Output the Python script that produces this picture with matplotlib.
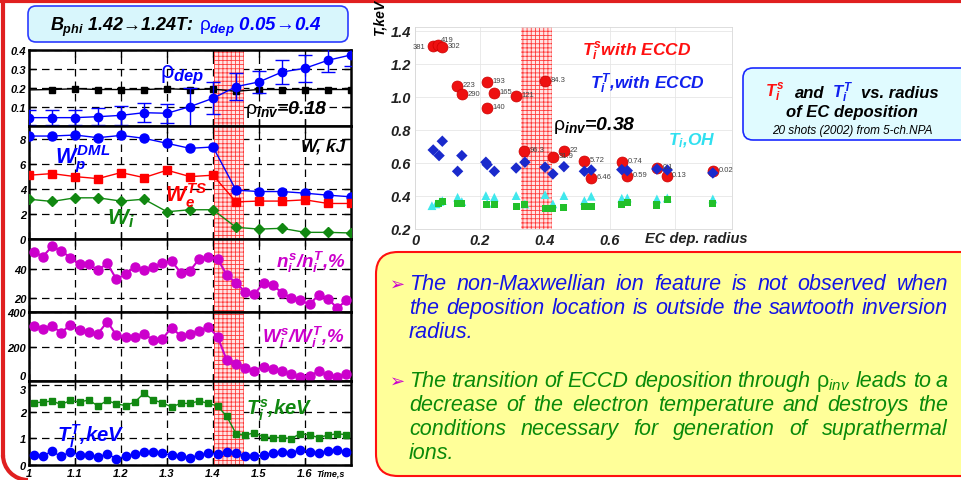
import matplotlib
matplotlib.use('Agg')
import matplotlib.pyplot as plt
from matplotlib.patches import FancyBboxPatch, Arc

plt.rcParams['font.family'] = ['Liberation Sans', 'DejaVu Sans']
plt.rcParams['mathtext.fontset'] = 'custom'
plt.rcParams['mathtext.rm'] = 'Liberation Sans'
plt.rcParams['mathtext.it'] = 'Liberation Sans:italic:bold'
plt.rcParams['mathtext.bf'] = 'Liberation Sans:bold'
plt.rcParams['mathtext.sf'] = 'Liberation Sans:italic'
plt.rcParams['hatch.linewidth'] = 0.6

# ---------------- time traces (left column) ----------------
t_slow = [1.00, 1.05, 1.10, 1.15, 1.20, 1.25, 1.30, 1.35, 1.40, 1.45, 1.50, 1.55, 1.60, 1.65, 1.70]
rho_dep = [0.044, 0.044, 0.044, 0.049, 0.056, 0.070, 0.067, 0.102, 0.146, 0.207, 0.232, 0.284, 0.304, 0.346, 0.374]
rho_err = [0.04, 0.04, 0.04, 0.045, 0.05, 0.05, 0.05, 0.10, 0.085, 0.07, 0.06, 0.065, 0.07, 0.06, 0.06]
rho_inv = [0.19, 0.192, 0.196, 0.192, 0.192, 0.192, 0.196, 0.192, 0.194, 0.183, 0.192, 0.192, 0.192, 0.192, 0.192]

w_p = [8.2, 8.2, 8.28, 8.07, 8.25, 8.02, 7.62, 7.22, 7.33, 3.89, 3.78, 3.78, 3.65, 3.49, 3.36]
w_e = [5.08, 5.21, 4.97, 4.81, 5.29, 4.89, 5.48, 4.97, 5.08, 2.96, 3.02, 3.02, 3.12, 2.83, 2.83]
w_i = [3.17, 2.99, 3.28, 3.28, 3.02, 3.17, 2.17, 2.33, 2.33, 0.93, 0.79, 0.85, 0.53, 0.53, 0.48]

t_fast = [1.01, 1.03, 1.05, 1.07, 1.09, 1.11, 1.13, 1.15, 1.17, 1.19, 1.21, 1.23,
          1.25, 1.27, 1.29, 1.31, 1.33, 1.35, 1.37, 1.39, 1.41, 1.43, 1.45, 1.47,
          1.49, 1.51, 1.53, 1.55, 1.57, 1.59, 1.61, 1.63, 1.65, 1.67, 1.69]
n_ratio = [52.2, 48.7, 55.8, 52.7, 48.0, 43.3, 43.3, 39.3, 44.0, 32.9, 36.5, 41.6,
           39.3, 41.2, 44.0, 45.6, 37.4, 38.8, 47.1, 48.7, 47.1, 35.8, 30.4, 24.0,
           22.4, 30.4, 28.7, 23.5, 19.8, 18.1, 15.3, 22.1, 19.3, 12.7, 18.1]
w_ratio = [320, 304, 320, 280, 326, 296, 284, 274, 344, 266, 254, 256,
           270, 240, 244, 310, 260, 274, 290, 314, 256, 120, 100, 74,
           60, 84, 70, 56, 40, 24, 30, 56, 34, 26, 40]
ti_s = [2.33, 2.36, 2.40, 2.27, 2.42, 2.36, 2.44, 2.21, 2.42, 2.29, 2.23, 2.36,
        2.69, 2.44, 2.33, 2.18, 2.31, 2.31, 2.40, 2.31, 2.21, 1.82, 1.18, 1.12,
        1.21, 1.05, 1.03, 1.03, 0.99, 1.18, 1.12, 1.03, 1.12, 1.17, 1.14]
ti_t = [0.38, 0.35, 0.51, 0.32, 0.50, 0.37, 0.38, 0.31, 0.41, 0.24, 0.32, 0.41,
        0.47, 0.47, 0.44, 0.37, 0.32, 0.28, 0.37, 0.44, 0.41, 0.47, 0.44, 0.35,
        0.32, 0.37, 0.45, 0.47, 0.45, 0.58, 0.50, 0.45, 0.51, 0.58, 0.47]
band_t = [1.402, 1.467]
time_ticks = [1.0, 1.1, 1.2, 1.3, 1.4, 1.5, 1.6]
time_labels = ['1', '1.1', '1.2', '1.3', '1.4', '1.5', '1.6']

# ---------------- Ti vs EC deposition radius (right) ----------------
red_x = [0.056, 0.072, 0.084, 0.128, 0.144, 0.221, 0.244, 0.221, 0.311, 0.400,
         0.336, 0.424, 0.458, 0.521, 0.542, 0.636, 0.653, 0.744, 0.774, 0.916]
red_y = [1.31, 1.315, 1.30, 1.065, 1.014, 1.089, 1.024, 0.933, 1.004, 1.093,
         0.671, 0.634, 0.671, 0.610, 0.509, 0.604, 0.519, 0.570, 0.519, 0.550]
red_txt = ['381', '419', '302', '223', '290', '193', '165', '140', '121', '84.3',
           '96.3', '31.9', '22', '5.72', '6.46', '0.74', '0.59', '0.1', '0.13', '0.02']
blue_x = [0.056, 0.074, 0.084, 0.131, 0.144, 0.218, 0.222, 0.244, 0.311, 0.338,
          0.400, 0.424, 0.458, 0.521, 0.542, 0.636, 0.653, 0.744, 0.776, 0.916]
blue_y = [0.678, 0.644, 0.731, 0.549, 0.644, 0.604, 0.589, 0.549, 0.569, 0.604,
          0.574, 0.533, 0.577, 0.549, 0.557, 0.559, 0.553, 0.563, 0.557, 0.539]
cyan_x = [0.052, 0.065, 0.077, 0.084, 0.131, 0.144, 0.218, 0.222, 0.244, 0.311, 0.338,
          0.400, 0.424, 0.458, 0.521, 0.542, 0.636, 0.653, 0.744, 0.776, 0.916]
cyan_y = [0.341, 0.352, 0.366, 0.372, 0.392, 0.366, 0.402, 0.355, 0.392, 0.402, 0.352,
          0.408, 0.352, 0.402, 0.372, 0.398, 0.386, 0.388, 0.382, 0.388, 0.382]
green_x = [0.072, 0.084, 0.131, 0.144, 0.221, 0.244, 0.311, 0.338, 0.400, 0.424,
           0.458, 0.521, 0.542, 0.636, 0.653, 0.744, 0.776, 0.916]
green_y = [0.356, 0.366, 0.352, 0.356, 0.348, 0.348, 0.338, 0.346, 0.322, 0.322,
           0.328, 0.337, 0.337, 0.347, 0.361, 0.345, 0.377, 0.357]
band_r = [0.325, 0.42]

W, H = 962, 481
fig = plt.figure(figsize=(W / 100, H / 100), dpi=100)


def box(x0, y0, x1, y1):
    return [x0 / W, 1 - y1 / H, (x1 - x0) / W, (y1 - y0) / H]


BI = dict(fontweight='bold', fontstyle='italic')
BLUE, RED, GREEN, MAG = '#0000ff', '#ff0000', '#118811', '#cc00cc'


def panel(top, bottom, ylim, yt, ylab, last=False):
    ax = fig.add_axes(box(29, top, 351, bottom))
    ax.set_xlim(1.0, 1.70)
    ax.set_ylim(*ylim)
    ax.set_xticks(time_ticks)
    ax.set_yticks(yt)
    ax.set_yticklabels(ylab, fontsize=8, **BI)
    if last:
        ax.set_xticklabels(time_labels, fontsize=8, **BI)
    else:
        ax.tick_params(labelbottom=False)
    ax.grid(True, color='k', ls=(0, (6, 4)), lw=0.9)
    ax.set_axisbelow(True)
    ax.tick_params(direction='in', right=True, top=True, length=5, width=1, pad=2)
    for s in ax.spines.values():
        s.set_linewidth(1.8)
    ax.axvspan(*band_t, facecolor='#ffe4e4', edgecolor='#ff3a3a', hatch='++++', lw=0, zorder=1)
    return ax


a1 = panel(51, 127, (0, 0.4), [0.1, 0.2, 0.3, 0.4], ['0.1', '0.2', '0.3', '0.4'])
a1.plot(t_slow, rho_inv, '-s', color='k', ms=4.5, lw=1, markevery=list(range(1, 15)), zorder=3)
a1.errorbar(t_slow, rho_dep, yerr=rho_err, fmt='-o', color=BLUE, ms=6, lw=1,
            elinewidth=1, capsize=5, zorder=4)

a2 = panel(127, 240, (0, 9.0), [0, 2, 4, 6, 8], ['0', '2', '4', '6', '8'])
a2.plot(t_slow, w_p, '-o', color=BLUE, ms=6.5, lw=1, zorder=3)
a2.plot(t_slow, w_e, '-s', color=RED, ms=5.5, lw=1, zorder=3)
a2.plot(t_slow, w_i, '-D', color=GREEN, ms=5, lw=1, zorder=3)

a3 = panel(240, 313, (10, 61), [20, 40], ['20', '40'])
a3.plot(t_fast, n_ratio, '-o', color=MAG, ms=6.5, lw=1.5, zorder=3)

a4 = panel(313, 382, (0, 400), [0, 200, 400], ['0', '200', '400'])
a4.plot(t_fast, w_ratio, '-o', color=MAG, ms=6.5, lw=1.5, zorder=3)
a4.get_yticklabels()[0].set_va('bottom')

a5 = panel(382, 466, (0, 3.15), [0, 1, 2, 3], ['0', '1', '2', '3'], last=True)
a5.plot(t_fast, ti_s, '-s', color=GREEN, ms=5, lw=1, zorder=3)
a5.plot(t_fast, ti_t, '-o', color=BLUE, ms=6, lw=1, zorder=3)
a5.get_yticklabels()[-1].set_va('top')

# ---------------- scatter ----------------
sc = fig.add_axes(box(415, 28, 732, 230))
sc.set_xlim(0, 0.975)
sc.set_ylim(0.2, 1.422)
sc.axvspan(*band_r, facecolor='#ffe4e4', edgecolor='#ff3a3a', hatch='++++', lw=0, zorder=1)
sc.scatter(red_x, red_y, s=62, color='#ee1111', edgecolors='#cc0000', lw=0.5, zorder=3)
sc.scatter(blue_x, blue_y, s=34, marker='D', color='#1a2acc', edgecolors='none', zorder=4)
sc.scatter(cyan_x, cyan_y, s=40, marker='^', color='#40e8ec', edgecolors='none', zorder=4)
sc.scatter(green_x, green_y, s=26, marker='s', color='#22c02a', edgecolors='none', zorder=5)
for x, y, s in zip(red_x, red_y, red_txt):
    dx, dy = (4, 1)
    if s == '381':
        dx, dy = (-15, -1)
    elif s == '419':
        dx, dy = (2, 4)
    sc.annotate(s, (x, y), xytext=(dx, dy), textcoords='offset points',
                fontsize=5.5, color='#444444', va='center', zorder=6)
sc.set_xticks([0, 0.2, 0.4, 0.6, 0.8])
sc.set_xticklabels(['0', '0.2', '0.4', '0.6', ''], fontsize=10.5, **BI)
sc.set_yticks([0.2, 0.4, 0.6, 0.8, 1.0, 1.2, 1.4])
sc.set_yticklabels(['0.2', '0.4', '0.6', '0.8', '1.0', '1.2', '1.4'], fontsize=10.5, **BI)
sc.tick_params(length=0, pad=3, colors='#222222')
sc.grid(True, color='#e6e6e6', lw=0.6)
sc.set_axisbelow(True)
for s in sc.spines.values():
    s.set_color('#d8d8d8')
    s.set_linewidth(0.6)

# ---------------- decorations / text in pixel coords ----------------
deco = fig.add_axes([0, 0, 1, 1], zorder=10)
deco.set_xlim(0, W)
deco.set_ylim(H, 0)
deco.axis('off')

deco.plot([0, W], [2, 2], color='#e02020', lw=3)
deco.plot([3, 3], [2, 456], color='#e02020', lw=3)
deco.add_patch(Arc((28, 456), 50, 50, theta1=90, theta2=180, color='#e02020', lw=3))

deco.add_patch(FancyBboxPatch((28, 7), 320, 36, boxstyle='round,pad=0,rounding_size=8',
                              fc='#d8f6fc', ec='#2b3bff', lw=1.2))
deco.text(50, 27, r'$B_{phi}$ 1.42→1.24T:', fontsize=13, va='center', color='k', **BI)
deco.text(199, 27, r'$\mathrm{\rho}_{dep}$ 0.05→0.4', fontsize=13.5, va='center', color=BLUE, **BI)

# panel labels
deco.text(160, 75, r'$\mathrm{\rho}_{dep}$', fontsize=17, va='center', color=BLUE, **BI)
deco.text(245, 110, r'$\mathrm{\rho}_{inv}$=0.18', fontsize=14, va='center', color='k', **BI)
deco.text(345, 147, 'W, kJ', fontsize=12.5, ha='right', va='center', color='k', **BI)
deco.text(55, 159, r'$W_p^{DML}$', fontsize=15.5, va='center', color=BLUE, **BI)
deco.text(165, 196, r'$W_e^{TS}$', fontsize=15.5, va='center', color=RED, **BI)
deco.text(107, 219, r'$W_i$', fontsize=16, va='center', color=GREEN, **BI)
deco.text(345, 262, r'$n_i^s$/$n_i^T$,%', fontsize=13.5, ha='right', va='center', color=MAG, **BI)
deco.text(345, 337, r'$W_i^s$/$W_i^T$,%', fontsize=13.5, ha='right', va='center', color=MAG, **BI)
deco.text(246, 410, r'$T_i^s$,keV', fontsize=14.5, va='center', color=GREEN, **BI)
deco.text(57, 436, r'$T_i^T$,keV', fontsize=14.5, va='center', color=BLUE, **BI)
deco.text(345, 474, 'Time,s', fontsize=6.5, ha='right', va='center', color='k', **BI)

# scatter labels
deco.text(380, 18, 'T,keV', fontsize=10, rotation=90, ha='center', va='center', **BI)
deco.text(645, 239, 'EC dep. radius', fontsize=10.5, va='center', color='#222222', **BI)
deco.text(582, 52, r'$T_i^s$with ECCD', fontsize=12.5, va='center', color='#ff1010', **BI)
deco.text(590, 84, r'$T_i^T$,with ECCD', fontsize=12.5, va='center', color='#1020ee', **BI)
deco.text(553, 126, r'$\mathrm{\rho}_{inv}$=0.38', fontsize=14, va='center', color='k', **BI)
deco.text(668, 141, r'$T_i$,OH', fontsize=12.5, va='center', color='#30e0f0', **BI)

# right info box
deco.add_patch(FancyBboxPatch((743, 69), 240, 72, boxstyle='round,pad=0,rounding_size=10',
                              fc='#e0fbff', ec='#1a2aff', lw=1.2))
deco.text(765, 93, r'$T_i^s$', fontsize=12, va='center', color='#ff1010', **BI)
deco.text(795, 93, 'and', fontsize=12, va='center', color='k', **BI)
deco.text(832, 93, r'$T_i^T$', fontsize=12, va='center', color='#1020ee', **BI)
deco.text(861, 93, 'vs. radius', fontsize=12, va='center', color='k', **BI)
deco.text(852, 113, 'of EC deposition', fontsize=12, ha='center', va='center', color='k', **BI)
deco.text(852, 131, '20 shots (2002) from 5-ch.NPA', fontsize=8.5, ha='center', va='center',
          color='k', fontstyle='italic')

# yellow conclusion box
deco.add_patch(FancyBboxPatch((376, 253), 620, 224, boxstyle='round,pad=0,rounding_size=22',
                              fc='#ffff99', ec='#ff1010', lw=1.5))

para1 = ['The non-Maxwellian ion feature is not observed when',
         'the deposition location is outside the sawtooth inversion',
         'radius.']
para2 = ['The transition of ECCD deposition through $\\mathrm{\\rho}_{\\mathsf{inv}}$ leads to a',
         'decrease of the electron temperature and destroys the',
         'conditions necessary for generation of suprathermal',
         'ions.']

renderer = fig.canvas.get_renderer()
FS = 15.5


def justify(line, y, x0, x1, color, fill):
    words = line.split(' ')
    objs = [deco.text(x0, y, w, fontsize=FS, fontstyle='italic', color=color, va='baseline')
            for w in words]
    widths = [o.get_window_extent(renderer).width for o in objs]
    gap = (x1 - x0 - sum(widths)) / (len(words) - 1) if (fill and len(words) > 1) else FS * 0.38
    x = x0
    for o, w in zip(objs, widths):
        o.set_x(x)
        x += w + gap


def paragraph(lines, y0, color):
    deco.text(390, y0, '➢', fontsize=13, color=MAG, family='DejaVu Sans', va='baseline')
    for k, line in enumerate(lines):
        justify(line, y0 + 24 * k, 409, 948, color, k < len(lines) - 1)


paragraph(para1, 290, '#1414e6')
paragraph(para2, 387, '#0a8a0a')

fig.savefig('out.png', dpi=100)
